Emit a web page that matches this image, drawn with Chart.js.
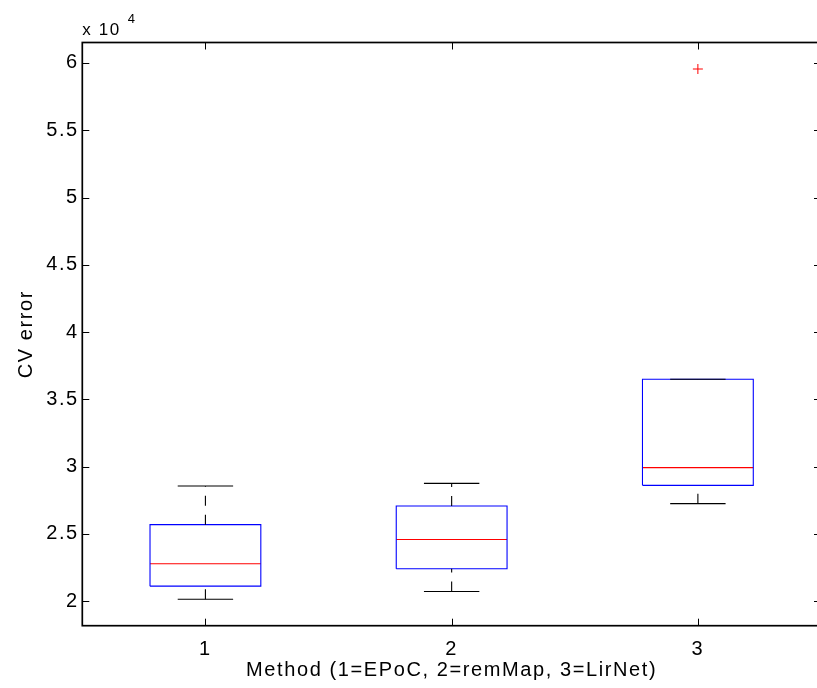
<!DOCTYPE html>
<html>
<head>
<meta charset="utf-8">
<script src="https://cdn.jsdelivr.net/npm/chart.js@4"></script>
<style>
  html, body { margin: 0; padding: 0; background: #fff; overflow: hidden; }
  #wrap { width: 830px; height: 688px; }
</style>
</head>
<body>
<div id="wrap"><canvas id="box" width="830" height="688"></canvas></div>
<script>
// box plot data (CV error)
const categories = [1, 2, 3];
const xTickLabels = ['1', '2', '3'];
const lowerWhisker = [20150, 20720, 27250];
const q1 = [21120, 22410, 28610];
const medians = [22780, 24590, 29930];
const q3 = [25690, 27070, 36500];
const upperWhisker = [28560, 28760, 36500];
const outliers = [[], [], [59550]];
const yTicks = [20000, 25000, 30000, 35000, 40000, 45000, 50000, 55000, 60000];
const yTickLabels = ['2', '2.5', '3', '3.5', '4', '4.5', '5', '5.5', '6'];

const FONT = '"Liberation Sans", Arial, sans-serif';
const BOX_HALF = 0.225;
const CAP_HALF = 0.1125;

// y limits like matlab boxplot: data range padded by 5%
const allVals = lowerWhisker.concat(upperWhisker, outliers.flat());
const dataLo = Math.min(...allVals), dataHi = Math.max(...allVals);
const yMin = dataLo - 0.05 * (dataHi - dataLo);
const yMax = dataHi + 0.05 * (dataHi - dataLo);

function seg(points, color, dash) {
    return {
        data: points,
        showLine: true,
        borderColor: color,
        borderWidth: 1.1,
        borderDash: dash || [],
        pointRadius: 0,
        fill: false,
        tension: 0
    };
}

const datasets = [];
categories.forEach((c, i) => {
    // whiskers, drawn from low to high
    datasets.push(seg([{x: c, y: lowerWhisker[i]}, {x: c, y: q1[i]}], '#000', [10, 9]));
    datasets.push(seg([{x: c, y: q3[i]}, {x: c, y: upperWhisker[i]}], '#000', [10, 9]));
    // caps
    datasets.push(seg([{x: c - CAP_HALF, y: lowerWhisker[i]}, {x: c + CAP_HALF, y: lowerWhisker[i]}], '#000'));
    datasets.push(seg([{x: c - CAP_HALF, y: upperWhisker[i]}, {x: c + CAP_HALF, y: upperWhisker[i]}], '#000'));
    // box
    datasets.push(seg([
        {x: c - BOX_HALF, y: q1[i]}, {x: c + BOX_HALF, y: q1[i]},
        {x: c + BOX_HALF, y: q3[i]}, {x: c - BOX_HALF, y: q3[i]},
        {x: c - BOX_HALF, y: q1[i]}
    ], '#0000ff'));
    // median
    datasets.push(seg([{x: c - BOX_HALF, y: medians[i]}, {x: c + BOX_HALF, y: medians[i]}], '#ff0000'));
});
// outliers
datasets.push({
    data: categories.flatMap((c, i) => outliers[i].map(v => ({x: c, y: v}))),
    showLine: false,
    pointStyle: 'cross',
    pointRadius: 5,
    borderColor: '#ff0000',
    borderWidth: 1
});

// the matlab fonts run wider than Liberation Sans, widen with letter spacing
const wideText = {
    id: 'wideText',
    beforeDraw(chart) { chart.ctx.letterSpacing = '1.6px'; }
};

// matlab style frame, inward ticks and the x 10^4 multiplier
const boxFrame = {
    id: 'boxFrame',
    afterDatasetsDraw(chart) {
        const {ctx, chartArea: a, scales: {x, y}} = chart;
        ctx.save();
        ctx.strokeStyle = '#000';
        ctx.lineWidth = 1;
        ctx.beginPath();
        yTicks.forEach(v => {
            const py = Math.round(y.getPixelForValue(v)) + 0.5;
            ctx.moveTo(a.left, py); ctx.lineTo(a.left + 7, py);
            ctx.moveTo(a.right, py); ctx.lineTo(a.right - 7, py);
        });
        categories.forEach(v => {
            const px = Math.round(x.getPixelForValue(v)) + 0.5;
            ctx.moveTo(px, a.bottom); ctx.lineTo(px, a.bottom - 7);
            ctx.moveTo(px, a.top); ctx.lineTo(px, a.top + 7);
        });
        ctx.stroke();
        ctx.lineWidth = 1.7;
        ctx.strokeRect(a.left, a.top, a.right - a.left, a.bottom - a.top);

        ctx.fillStyle = '#000';
        ctx.textBaseline = 'alphabetic';
        ctx.textAlign = 'left';
        ctx.font = '17px ' + FONT;
        ctx.fillText('x 10', a.left, 35);
        ctx.font = '13px ' + FONT;
        ctx.fillText('4', a.left + 45.5, 22.7);
        ctx.restore();
    }
};

new Chart(document.getElementById('box'), {
    type: 'scatter',
    data: {datasets: datasets},
    plugins: [wideText, boxFrame],
    options: {
        responsive: false,
        animation: false,
        devicePixelRatio: 1,
        layout: {padding: {left: 0, top: 42.5, right: 9, bottom: 0}},
        plugins: {
            legend: {display: false},
            tooltip: {enabled: false}
        },
        scales: {
            x: {
                type: 'linear',
                min: 0.5,
                max: 3.5,
                grid: {display: false, drawTicks: false},
                border: {display: false},
                afterBuildTicks: s => { s.ticks = categories.map(v => ({value: v})); },
                afterFit: s => { s.height = 62.3; },
                ticks: {
                    padding: 12,
                    color: '#000',
                    font: {family: FONT, size: 20},
                    callback: (v, i) => xTickLabels[i]
                },
                title: {
                    display: true,
                    text: 'Method (1=EPoC, 2=remMap, 3=LirNet)',
                    color: '#000',
                    font: {family: FONT, size: 20},
                    padding: {top: 0, bottom: 6}
                }
            },
            y: {
                type: 'linear',
                min: yMin,
                max: yMax,
                grid: {display: false, drawTicks: false},
                border: {display: false},
                afterBuildTicks: s => { s.ticks = yTicks.map(v => ({value: v})); },
                afterFit: s => { s.width = 82.3; },
                ticks: {
                    padding: 3.5,
                    color: '#000',
                    font: {family: FONT, size: 20},
                    callback: (v, i) => yTickLabels[i]
                },
                title: {
                    display: true,
                    text: 'CV error',
                    color: '#000',
                    font: {family: FONT, size: 20},
                    padding: {top: 14, bottom: 0}
                }
            }
        }
    }
});
</script>
</body>
</html>
